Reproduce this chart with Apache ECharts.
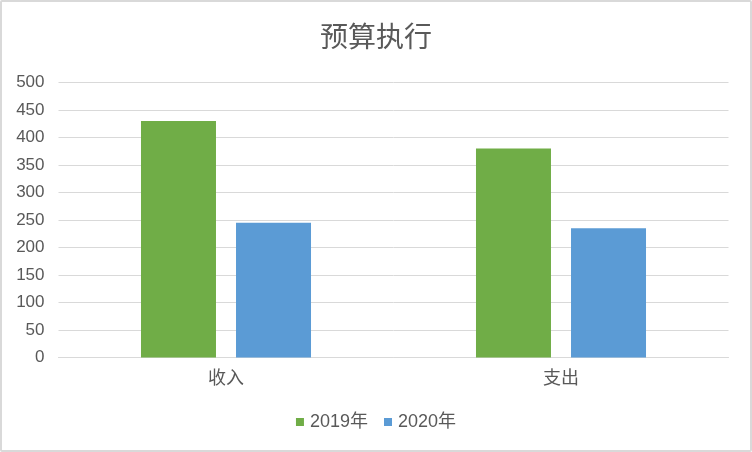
<!DOCTYPE html>
<html><head><meta charset="utf-8">
<script src="https://cdn.jsdelivr.net/npm/echarts@6/dist/echarts.min.js"></script>
<style>
html,body{margin:0;padding:0;background:#fff;}
#c{position:absolute;left:0;top:0;width:752px;height:452px;box-sizing:border-box;border:2px solid #d9d9d9;border-radius:2px;}
#chart{position:absolute;left:0;top:0;width:752px;height:452px;}
</style></head>
<body>
<div id="c"></div>
<div id="chart"></div>
<script>
var titleText = '预算执行';
var categories = ['收入', '支出'];
var seriesNames = ['2019年', '2020年'];
var values2019 = [430, 380];
var values2020 = [245, 235];
var yTicks = [0, 50, 100, 150, 200, 250, 300, 350, 400, 450, 500];

var font = "'Liberation Sans', 'Noto Sans CJK SC', sans-serif";
var chart = echarts.init(document.getElementById('chart'), null, {renderer: 'canvas'});
chart.setOption({
  animation: false,
  backgroundColor: 'transparent',
  title: {
    text: titleText, left: 'center', top: 20,
    textStyle: {fontFamily: font, fontSize: 28, fontWeight: 'normal', color: '#595959'}
  },
  legend: {
    data: seriesNames, bottom: 16, left: 'center',
    itemWidth: 8, itemHeight: 8, itemGap: 16, icon: 'rect',
    textStyle: {fontFamily: font, fontSize: 18, color: '#595959', padding: [0, 0, 0, 1]}
  },
  grid: {left: 58.5, right: 23.5, top: 82.5, bottom: 94.5, containLabel: false},
  xAxis: {
    type: 'category', data: categories,
    axisLine: {lineStyle: {color: '#d9d9d9', width: 1}},
    axisTick: {show: false},
    axisLabel: {fontFamily: font, fontSize: 18, color: '#595959', margin: 13}
  },
  yAxis: {
    type: 'value', min: yTicks[0], max: yTicks[yTicks.length - 1], interval: yTicks[1] - yTicks[0],
    axisLine: {show: false}, axisTick: {show: false},
    splitLine: {lineStyle: {color: '#d9d9d9', width: 1}},
    axisLabel: {fontFamily: font, fontSize: 17, color: '#595959', margin: 14}
  },
  series: [
    {name: seriesNames[0], type: 'bar', data: values2019, barWidth: 75, barGap: '26.7%', itemStyle: {color: '#70AD47'}},
    {name: seriesNames[1], type: 'bar', data: values2020, barWidth: 75, itemStyle: {color: '#5B9BD5'}}
  ]
});
</script>
</body></html>
